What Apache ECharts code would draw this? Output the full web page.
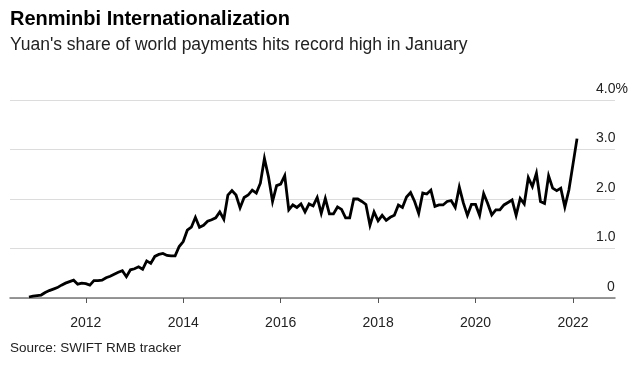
<!DOCTYPE html>
<html>
<head>
<meta charset="utf-8">
<script src="https://cdn.jsdelivr.net/npm/echarts@6/dist/echarts.min.js"></script>
<style>html,body{margin:0;padding:0;background:#fff;}#c{width:639px;height:366px;}</style>
</head>
<body>
<div id="c"></div>
<script>
// Monthly share of world payments (%), SWIFT RMB tracker
const firstYear = 2010;
const firstMonth = 10; // October 2010
const share2010 = [0.02, 0.04, 0.05];
const share2011 = [0.06, 0.11, 0.15, 0.18, 0.21, 0.26, 0.30, 0.33, 0.36, 0.28, 0.30, 0.29];
const share2012 = [0.26, 0.35, 0.35, 0.36, 0.41, 0.44, 0.48, 0.52, 0.55, 0.43, 0.57, 0.59];
const share2013 = [0.63, 0.58, 0.75, 0.70, 0.84, 0.88, 0.90, 0.86, 0.85, 0.85, 1.04, 1.14];
const share2014 = [1.37, 1.43, 1.63, 1.43, 1.47, 1.55, 1.58, 1.62, 1.74, 1.59, 2.08, 2.17];
const share2015 = [2.08, 1.82, 2.03, 2.08, 2.18, 2.12, 2.32, 2.82, 2.45, 1.95, 2.27, 2.30];
const share2016 = [2.47, 1.78, 1.88, 1.83, 1.90, 1.74, 1.90, 1.86, 2.03, 1.71, 2.01, 1.70];
const share2017 = [1.70, 1.84, 1.79, 1.62, 1.62, 2.00, 2.00, 1.95, 1.89, 1.47, 1.74, 1.56];
const share2018 = [1.67, 1.57, 1.63, 1.67, 1.88, 1.83, 2.04, 2.13, 1.95, 1.71, 2.12, 2.10];
const share2019 = [2.18, 1.85, 1.88, 1.88, 1.95, 1.97, 1.83, 2.24, 1.92, 1.67, 1.89, 1.89];
const share2020 = [1.67, 2.11, 1.91, 1.68, 1.78, 1.78, 1.88, 1.93, 1.98, 1.67, 2.01, 1.90];
const share2021 = [2.43, 2.25, 2.52, 1.95, 1.91, 2.47, 2.22, 2.17, 2.22, 1.84, 2.18, 2.70];
const share2022 = [3.22];
const yearTicks = [2012, 2014, 2016, 2018, 2020, 2022];
const yTickLabels = ['0', '1.0', '2.0', '3.0', '4.0%'];

const byYear = [share2010, share2011, share2012, share2013, share2014, share2015,
  share2016, share2017, share2018, share2019, share2020, share2021, share2022];
const data = [];
byYear.forEach((arr, yi) => {
  const yr = firstYear + yi;
  const m0 = yi === 0 ? firstMonth : 1;
  arr.forEach((v, i) => { data.push([yr + (m0 + i) / 12, v]); });
});

const FONT = '"Liberation Sans", Arial, sans-serif';
const chart = echarts.init(document.getElementById('c'), null, {renderer: 'canvas'});
chart.setOption({
  animation: false,
  backgroundColor: '#fff',
  title: [
    {text: 'Renminbi Internationalization', left: 10, top: 9, padding: 0,
      textStyle: {fontFamily: FONT, fontSize: 20, fontWeight: 'bold', color: '#000'}},
    {text: "Yuan's share of world payments hits record high in January", left: 10, top: 36, padding: 0,
      textStyle: {fontFamily: FONT, fontSize: 17.5, fontWeight: 'normal', color: '#222'}},
    {text: 'Source: SWIFT RMB tracker', left: 10, top: 341, padding: 0,
      textStyle: {fontFamily: FONT, fontSize: 13.5, fontWeight: 'normal', color: '#222'}}
  ],
  grid: {left: 10, right: 24, top: 100, bottom: 68, containLabel: false},
  xAxis: {
    type: 'value', min: 2010.444, max: 2022.863,
    axisLine: {show: true, lineStyle: {color: '#777', width: 1.5}},
    axisTick: {show: true, customValues: yearTicks, length: 5, lineStyle: {color: '#555', width: 1}},
    axisLabel: {customValues: yearTicks, formatter: v => String(Math.round(v)),
      fontFamily: FONT, fontSize: 14, color: '#222', margin: 18},
    splitLine: {show: false}
  },
  yAxis: {
    type: 'value', position: 'right', min: 0, max: 4, interval: 1,
    axisLine: {show: false}, axisTick: {show: false},
    splitLine: {show: true, lineStyle: {color: '#dcdcdc', width: 1.2}},
    axisLabel: {
      inside: true, margin: 19, align: 'left', verticalAlign: 'bottom',
      fontFamily: FONT, fontSize: 14, color: '#222', padding: [0, 0, 4, 0],
      formatter: v => {
        const t = yTickLabels[Math.round(v)];
        return v === 0 ? '{z|' + t + '}' : t;
      },
      rich: {z: {fontFamily: FONT, fontSize: 14, color: '#222', padding: [0, 0, 0, 11]}}
    }
  },
  series: [{
    type: 'line', data: data, showSymbol: false, symbol: 'none',
    lineStyle: {color: '#000', width: 2.8, join: 'miter'}, z: 5
  }]
});
</script>
</body>
</html>
